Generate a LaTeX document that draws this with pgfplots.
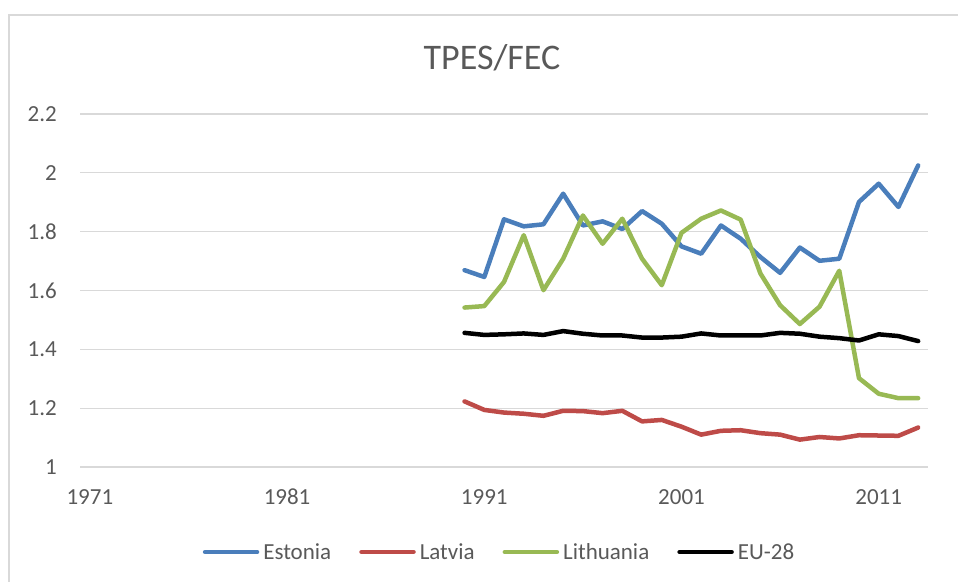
\documentclass[border=0pt]{standalone}
\usepackage{fontspec}
\setmainfont{Carlito}
\usepackage{pgfplots}
\pgfplotsset{compat=1.18}
\definecolor{est}{HTML}{4A7EBB}
\definecolor{lat}{HTML}{BE4B48}
\definecolor{lit}{HTML}{98B954}
\definecolor{gridc}{HTML}{D9D9D9}
\definecolor{txt}{HTML}{595959}
\begin{document}
\begin{tikzpicture}[x=1bp,y=1bp]
\useasboundingbox (0,0) rectangle (958,582);
\draw[color=gridc, line width=1.3bp] (9,567) rectangle (975,-20);
\node[text=txt, font=\fontsize{36bp}{40bp}\selectfont, anchor=base] at (492,512) {TPES/FEC};
\begin{axis}[
  at={(80bp,115bp)}, anchor=south west,
  width=848bp, height=353bp, scale only axis,
  xmin=1970.5, xmax=2013.5, ymin=1, ymax=2.2,
  xtick={1971,1981,1991,2001,2011},
  xticklabels={1971,1981,1991,2001,2011},
  ytick={1,1.2,1.4,1.6,1.8,2,2.2},
  yticklabels={1,1.2,1.4,1.6,1.8,2,2.2},
  axis line style={draw=none},
  tick style={draw=none},
  ymajorgrids, xmajorgrids=false,
  major grid style={color=gridc, line width=1.3bp},
  ticklabel style={font=\fontsize{23bp}{26bp}\selectfont, text=txt},
  xticklabel style={anchor=base, yshift=-38bp, inner sep=0pt},
  yticklabel style={anchor=east, xshift=-23bp, inner sep=0pt},
  legend columns=4,
  legend style={at={(0.4935,-0.2408)}, anchor=center, draw=none, fill=none,
    font=\fontsize{23bp}{26bp}\selectfont, text=txt,
    nodes={inner sep=0pt},
    /tikz/every odd column/.append style={column sep=4bp},
    /tikz/every even column/.append style={column sep=28bp}},
  legend image code/.code={\draw[#1, line width=4.5bp, line cap=round] (0bp,0bp) -- (52bp,0bp);},
  every axis plot/.append style={line width=4.5bp, line join=round, line cap=round, mark=none},
]
\addplot[color=est] coordinates {
(1990,1.669)(1991,1.646)(1992,1.842)(1993,1.818)(1994,1.825)(1995,1.929)
(1996,1.821)(1997,1.835)(1998,1.809)(1999,1.870)(2000,1.827)(2001,1.750)
(2002,1.725)(2003,1.821)(2004,1.776)(2005,1.714)(2006,1.660)(2007,1.746)
(2008,1.701)(2009,1.708)(2010,1.901)(2011,1.963)(2012,1.884)(2013,2.025)};
\addlegendentry{Estonia}
\addplot[color=lat] coordinates {
(1990,1.223)(1991,1.194)(1992,1.185)(1993,1.181)(1994,1.174)(1995,1.191)
(1996,1.190)(1997,1.183)(1998,1.191)(1999,1.155)(2000,1.160)(2001,1.137)
(2002,1.110)(2003,1.123)(2004,1.125)(2005,1.115)(2006,1.110)(2007,1.093)
(2008,1.102)(2009,1.097)(2010,1.108)(2011,1.107)(2012,1.106)(2013,1.134)};
\addlegendentry{Latvia}
\addplot[color=lit] coordinates {
(1990,1.542)(1991,1.547)(1992,1.629)(1993,1.788)(1994,1.601)(1995,1.708)
(1996,1.855)(1997,1.759)(1998,1.844)(1999,1.708)(2000,1.618)(2001,1.796)
(2002,1.844)(2003,1.872)(2004,1.841)(2005,1.658)(2006,1.550)(2007,1.486)
(2008,1.545)(2009,1.667)(2010,1.302)(2011,1.249)(2012,1.234)(2013,1.234)};
\addlegendentry{Lithuania}
\addplot[color=black] coordinates {
(1990,1.456)(1991,1.449)(1992,1.451)(1993,1.454)(1994,1.449)(1995,1.462)
(1996,1.453)(1997,1.447)(1998,1.447)(1999,1.440)(2000,1.440)(2001,1.443)
(2002,1.454)(2003,1.447)(2004,1.447)(2005,1.447)(2006,1.456)(2007,1.453)
(2008,1.443)(2009,1.438)(2010,1.430)(2011,1.451)(2012,1.445)(2013,1.428)};
\addlegendentry{EU-28}
\end{axis}
\end{tikzpicture}
\end{document}
